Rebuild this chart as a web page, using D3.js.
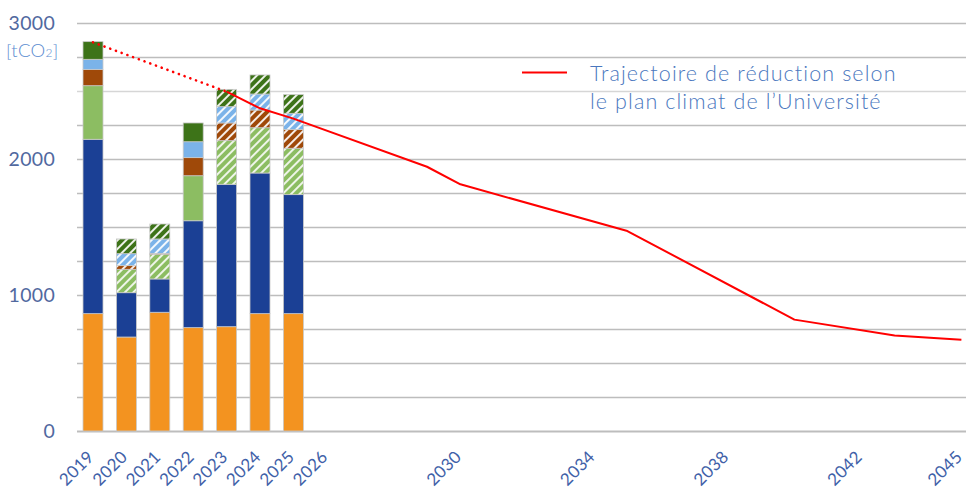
<!DOCTYPE html>
<html><head><meta charset="utf-8">
<script src="https://cdn.jsdelivr.net/npm/d3@7"></script>
<style>body{margin:0;background:#fff}svg{display:block}text{font-family:Lato,"Open Sans",sans-serif}</style>
</head><body><svg id="c" width="966" height="495"></svg>
<script>
const years = d3.range(2019, 2046).map(String);
const barYears = ["2019","2020","2021","2022","2023","2024","2025"];
const seriesNames = ["s1","s2","s3","s4","s5","s6"];
const s1 = [863, 691, 873, 760, 767, 863, 863];
const s2 = [1282, 326, 245, 786, 1047, 1034, 875];
const s3 = [394, 172, 179, 331, 321, 333, 341];
const s4 = [120, 27, 9, 133, 130, 130, 137];
const s5 = [74, 88, 106, 117, 120, 118, 120];
const s6 = [130, 108, 110, 138, 127, 140, 137];
const hatchedYears = ["2020","2021","2023","2024","2025"];
const hatchedSeries = ["s3","s4","s5","s6"];
const trajYears = ["2019","2023","2024","2025","2029","2030","2035","2040","2043","2045"];
const trajValues = [2858, 2495, 2373, 2297, 1943, 1814, 1470, 819, 703, 671];
const xTickLabels = ["2019","2020","2021","2022","2023","2024","2025","2026","2030","2034","2038","2042","2045"];
const yTickLabels = [0, 1000, 2000, 3000];
const yGrid = d3.range(0, 3001, 250);
const legendLines = ["Trajectoire de réduction selon", "le plan climat de l’Université"];

const colors = {s1:"#F39320", s2:"#1B4095", s3:"#8CBD62", s4:"#9F4909", s5:"#7BB3E9", s6:"#3D7318"};

const svg = d3.select("#c");
const x = d3.scaleBand().domain(years).range([76.3, 978.1]).paddingInner(0.4).paddingOuter(0.2);
const y = d3.scaleLinear().domain([0, 3000]).range([431, 23]);

// patterns
const defs = svg.append("defs");
seriesNames.forEach(k => {
  const p = defs.append("pattern").attr("id", "h_" + k).attr("patternUnits", "userSpaceOnUse")
    .attr("width", 6).attr("height", 6).attr("patternTransform", "rotate(45)");
  p.append("rect").attr("width", 6).attr("height", 6).attr("fill", colors[k]);
  p.append("rect").attr("x", 0).attr("y", 0).attr("width", 2).attr("height", 6).attr("fill", "#fff").attr("opacity", k === "s3" ? 0.85 : 0.9);
});

// grid
svg.append("g").selectAll("line").data(yGrid).join("line")
  .attr("x1", 77).attr("x2", 966)
  .attr("y1", d => Math.round(y(d)) + 0.5).attr("y2", d => Math.round(y(d)) + 0.5)
  .attr("stroke", d => d === 2500 ? "#D6D6D6" : "#BDBDBD").attr("stroke-width", d => d === 0 ? 2 : 1.6);

// stacked bars
const table = barYears.map((yr, i) => ({year: yr, s1: s1[i], s2: s2[i], s3: s3[i], s4: s4[i], s5: s5[i], s6: s6[i]}));
const stack = d3.stack().keys(seriesNames)(table);
const bw = 20;
svg.append("g").selectAll("g").data(stack).join("g")
  .selectAll("rect").data(s => s.map(d => ({key: s.key, d}))).join("rect")
  .attr("x", o => x(o.d.data.year) + x.bandwidth() / 2 - bw / 2)
  .attr("width", bw)
  .attr("y", o => y(o.d[1]))
  .attr("height", o => y(o.d[0]) - y(o.d[1]))
  .attr("fill", o => (hatchedYears.includes(o.d.data.year) && hatchedSeries.includes(o.key)) ? "url(#h_" + o.key + ")" : colors[o.key])
  .attr("stroke", "#C9C9C9").attr("stroke-width", 0.8);

// trajectory line
const cx = yr => x(yr) + x.bandwidth() / 2;
const pts = trajYears.map((yr, i) => [cx(yr), y(trajValues[i])]);
const line = d3.line();
svg.append("path").attr("d", line(pts.slice(0, 2))).attr("fill", "none")
  .attr("stroke", "#FF0000").attr("stroke-width", 2.6).attr("stroke-dasharray", "0.1 6")
  .attr("stroke-linecap", "round");
svg.append("path").attr("d", line(pts.slice(1))).attr("fill", "none")
  .attr("stroke", "#FF0000").attr("stroke-width", 2).attr("stroke-linejoin", "round");

// y labels
svg.append("g").selectAll("text").data(yTickLabels).join("text")
  .attr("x", 55).attr("y", d => y(d)).attr("dy", "0.35em").attr("text-anchor", "end")
  .attr("fill", "#51699F").attr("font-size", 19.5).attr("font-weight", 400).attr("letter-spacing", 0.3).text(d => d);
const u = svg.append("text").attr("x", 6).attr("y", 57).attr("fill", "#5B8BD0").attr("font-size", 18.5).attr("font-weight", 300).attr("letter-spacing", 0.3);
u.append("tspan").text("[tCO");
u.append("tspan").attr("font-size", 12).text("2");
u.append("tspan").text("]");

// x labels
svg.append("g").selectAll("text").data(xTickLabels).join("text")
  .attr("transform", d => `translate(${cx(d) + 2},${458}) rotate(-45)`)
  .attr("text-anchor", "end")
  .attr("fill", "#3F61A8").attr("font-size", 17).attr("font-weight", 400).attr("letter-spacing", 0.3).text(d => d);

// legend
svg.append("line").attr("x1", 522).attr("x2", 567).attr("y1", 72.5).attr("y2", 72.5)
  .attr("stroke", "#FF0000").attr("stroke-width", 2.2);
svg.append("g").selectAll("text").data(legendLines).join("text")
  .attr("x", 590).attr("y", (d, i) => 73 + i * 28).attr("dy", "0.35em")
  .attr("fill", "#4A77BE").attr("font-size", 21.5).attr("font-weight", 300).attr("letter-spacing", 1.1).text(d => d);
</script></body></html>
